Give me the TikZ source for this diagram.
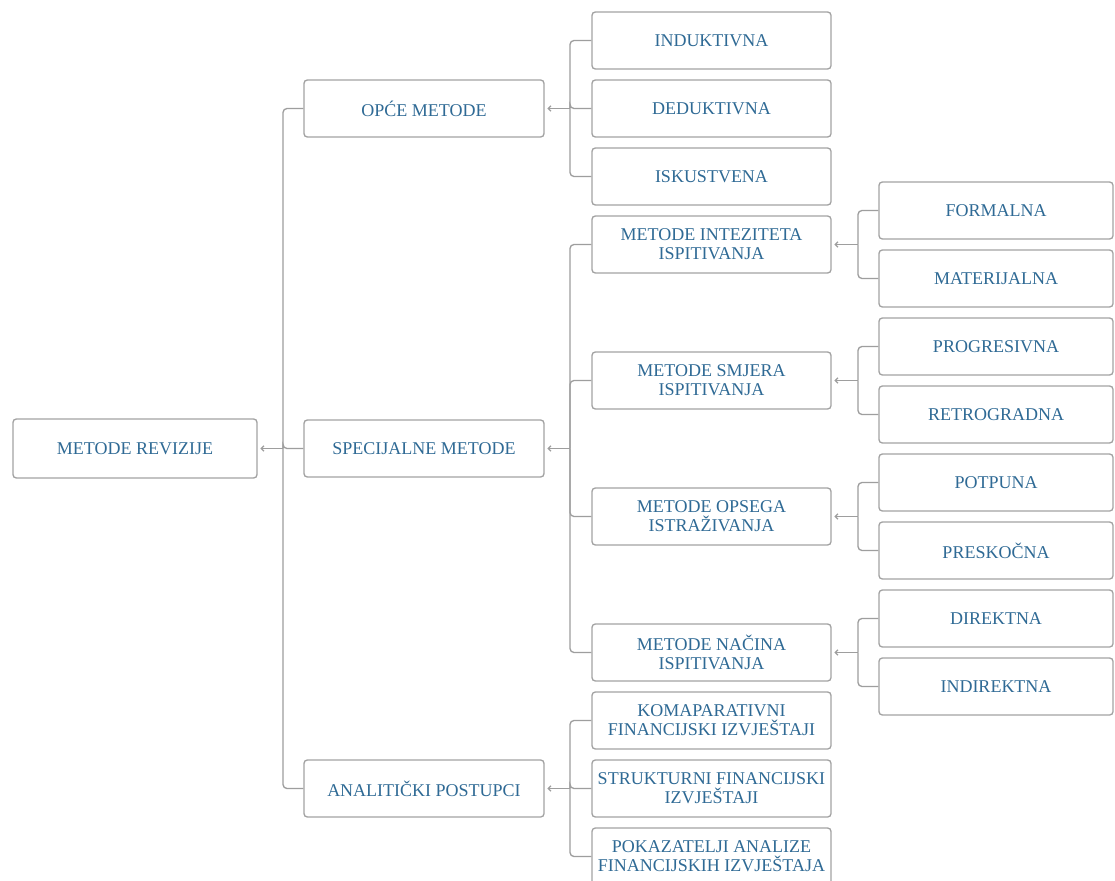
\documentclass[tikz,border=0pt]{standalone}
\usepackage{fontspec}
\setmainfont{Liberation Serif}
\usetikzlibrary{arrows.meta}
\definecolor{txt}{HTML}{2F6A95}
\definecolor{edge}{HTML}{A3A3A3}
\definecolor{wire}{HTML}{9E9E9E}
\tikzset{
  box/.style={draw=edge, line width=1pt, rounded corners=2.5pt, fill=white,
    text=txt, align=center, inner sep=0pt, minimum height=42.75pt,
    font=\fontsize{13.5}{14}\selectfont},
  rootbox/.style={box, minimum width=183pt, minimum height=44.25pt},
  lone/.style={box, minimum width=180pt},
  ltwo/.style={box, minimum width=179.25pt},
  lthree/.style={box, minimum width=175.5pt},
  conn/.style={draw=wire, line width=1pt, rounded corners=3pt},
  tip/.style={conn, {Straight Barb[length=2pt,width=4pt]}-, shorten <=2pt}
}
\begin{document}
\begin{tikzpicture}[x=0.75pt,y=-0.75pt]
\clip (0,0) rectangle (1115,881);
\fill[white] (0,0) rectangle (1115,881);
% nodes
\node[rootbox] (root) at (135,448.5) {METODE REVIZIJE};
\node[lone] (opce) at (424,108.5) {OPĆE METODE};
\node[lone] (spec) at (424,448.5) {SPECIJALNE METODE};
\node[lone] (anal) at (424,788.5) {ANALITIČKI POSTUPCI};
\node[ltwo] (ind) at (711.5,40.5) {INDUKTIVNA};
\node[ltwo] (ded) at (711.5,108.5) {DEDUKTIVNA};
\node[ltwo] (isk) at (711.5,176.5) {ISKUSTVENA};
\node[ltwo] (intz) at (711.5,244.5) {METODE INTEZITETA\\ISPITIVANJA};
\node[ltwo] (smj) at (711.5,380.5) {METODE SMJERA\\ISPITIVANJA};
\node[ltwo] (ops) at (711.5,516.5) {METODE OPSEGA\\ISTRAŽIVANJA};
\node[ltwo] (nac) at (711.5,652.5) {METODE NAČINA\\ISPITIVANJA};
\node[ltwo] (kom) at (711.5,720.5) {KOMAPARATIVNI\\FINANCIJSKI IZVJEŠTAJI};
\node[ltwo] (str) at (711.5,788.5) {STRUKTURNI FINANCIJSKI\\IZVJEŠTAJI};
\node[ltwo] (pok) at (711.5,856.5) {POKAZATELJI ANALIZE\\FINANCIJSKIH IZVJEŠTAJA};
\node[lthree] (for) at (996,210.5) {FORMALNA};
\node[lthree] (mat) at (996,278.5) {MATERIJALNA};
\node[lthree] (pro) at (996,346.5) {PROGRESIVNA};
\node[lthree] (ret) at (996,414.5) {RETROGRADNA};
\node[lthree] (pot) at (996,482.5) {POTPUNA};
\node[lthree] (pre) at (996,550.5) {PRESKOČNA};
\node[lthree] (dir) at (996,618.5) {DIREKTNA};
\node[lthree] (indir) at (996,686.5) {INDIREKTNA};
% bus coordinates
\coordinate (b0) at (283,448.5);
\coordinate (bo) at (570,108.5);
\coordinate (bs) at (570,448.5);
\coordinate (ba) at (570,788.5);
\coordinate (bi) at (858,244.5);
\coordinate (bm) at (858,380.5);
\coordinate (bp) at (858,516.5);
\coordinate (bn) at (858,652.5);
% connectors
\draw[tip] (root.east) -- (b0);
\foreach \c in {opce,spec,anal} \draw[conn] (b0) |- (\c.west);
\draw[tip] (opce.east) -- (bo);
\foreach \c in {ind,ded,isk} \draw[conn] (bo) |- (\c.west);
\draw[tip] (spec.east) -- (bs);
\foreach \c in {intz,smj,ops,nac} \draw[conn] (bs) |- (\c.west);
\draw[tip] (anal.east) -- (ba);
\foreach \c in {kom,str,pok} \draw[conn] (ba) |- (\c.west);
\draw[tip] (intz.east) -- (bi);
\foreach \c in {for,mat} \draw[conn] (bi) |- (\c.west);
\draw[tip] (smj.east) -- (bm);
\foreach \c in {pro,ret} \draw[conn] (bm) |- (\c.west);
\draw[tip] (ops.east) -- (bp);
\foreach \c in {pot,pre} \draw[conn] (bp) |- (\c.west);
\draw[tip] (nac.east) -- (bn);
\foreach \c in {dir,indir} \draw[conn] (bn) |- (\c.west);
\end{tikzpicture}
\end{document}
